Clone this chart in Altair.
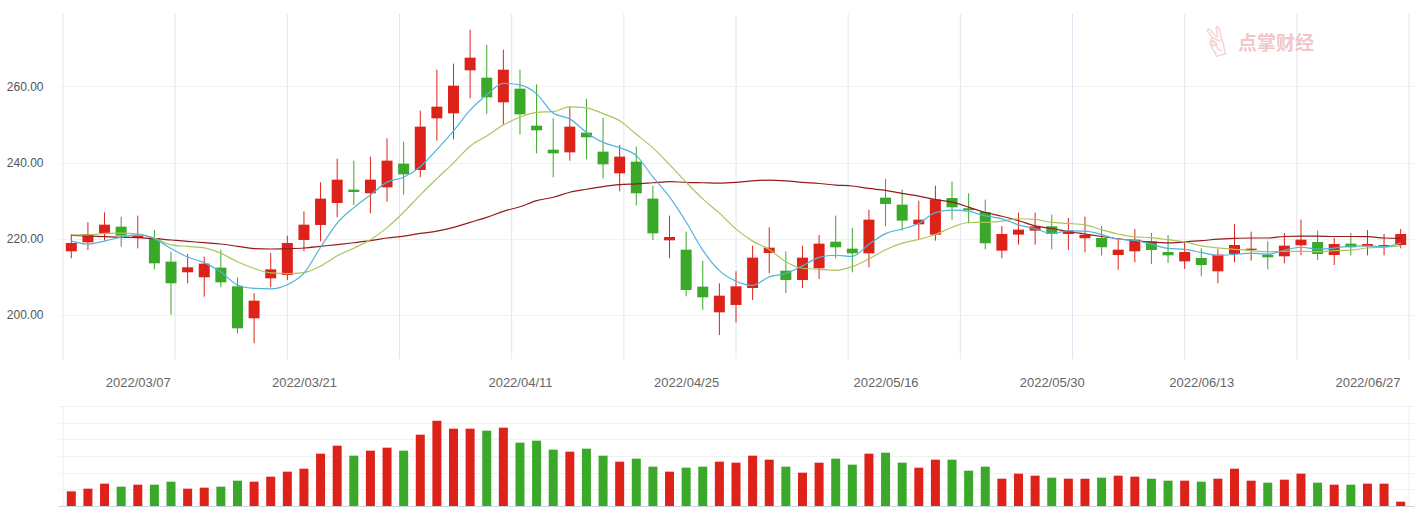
import altair as alt
import pandas as pd

DATES = [
    "2022/03/01", "2022/03/02", "2022/03/03", "2022/03/04", "2022/03/07", "2022/03/08", "2022/03/09",
    "2022/03/10", "2022/03/11", "2022/03/14", "2022/03/15", "2022/03/16", "2022/03/17", "2022/03/18",
    "2022/03/21", "2022/03/22", "2022/03/23", "2022/03/24", "2022/03/25", "2022/03/28", "2022/03/29",
    "2022/03/30", "2022/03/31", "2022/04/01", "2022/04/06", "2022/04/07", "2022/04/08", "2022/04/11",
    "2022/04/12", "2022/04/13", "2022/04/14", "2022/04/15", "2022/04/18", "2022/04/19", "2022/04/20",
    "2022/04/21", "2022/04/22", "2022/04/25", "2022/04/26", "2022/04/27", "2022/04/28", "2022/04/29",
    "2022/05/05", "2022/05/06", "2022/05/09", "2022/05/10", "2022/05/11", "2022/05/12", "2022/05/13",
    "2022/05/16", "2022/05/17", "2022/05/18", "2022/05/19", "2022/05/20", "2022/05/23", "2022/05/24",
    "2022/05/25", "2022/05/26", "2022/05/27", "2022/05/30", "2022/05/31", "2022/06/01", "2022/06/02",
    "2022/06/06", "2022/06/07", "2022/06/08", "2022/06/09", "2022/06/10", "2022/06/13", "2022/06/14",
    "2022/06/15", "2022/06/16", "2022/06/17", "2022/06/20", "2022/06/21", "2022/06/22", "2022/06/23",
    "2022/06/24", "2022/06/27", "2022/06/28", "2022/06/29",
]

OPEN = [
    216.71, 219.07, 221.52, 223.18, 220.20, 220.20, 214.00, 211.20, 209.89, 212.42,
    207.52, 199.13, 209.62, 210.50, 219.68, 223.62, 229.39, 232.89, 231.93, 233.50,
    239.71, 238.05, 251.60, 252.92, 264.20, 262.27, 255.80, 259.39, 249.68, 243.38,
    242.68, 247.84, 242.86, 237.17, 240.23, 230.53, 219.59, 217.14, 207.44, 200.70,
    202.63, 207.08, 216.27, 211.63, 209.18, 212.25, 219.24, 217.41, 216.18, 230.79,
    228.95, 223.79, 221.08, 230.70, 228.00, 227.03, 216.88, 221.08, 222.13, 223.27,
    221.25, 220.12, 220.20, 215.74, 216.71, 219.33, 216.53, 214.08, 214.96, 211.46,
    216.01, 217.06, 215.83, 215.40, 218.28, 219.15, 215.74, 218.72, 218.02, 218.11,
    218.37,
]
HIGH = [
    221.25, 224.32, 226.94, 225.80, 226.07, 222.30, 216.62, 216.01, 215.31, 217.14,
    209.89, 205.69, 216.27, 220.82, 227.20, 234.81, 241.02, 240.50, 241.55, 246.36,
    245.48, 253.62, 264.37, 265.95, 274.87, 270.93, 269.62, 264.37, 260.52, 251.60,
    254.66, 256.68, 251.69, 244.61, 244.17, 233.94, 226.07, 221.87, 214.26, 208.31,
    211.46, 218.19, 223.00, 216.71, 218.19, 220.99, 226.07, 222.83, 227.64, 235.69,
    232.89, 230.00, 233.94, 234.99, 231.93, 230.26, 223.35, 226.85, 226.85, 226.33,
    225.45, 225.80, 223.35, 219.68, 222.57, 221.52, 220.99, 219.33, 217.49, 217.32,
    223.88, 221.87, 219.33, 221.52, 225.02, 222.13, 220.20, 221.52, 222.30, 221.25,
    222.57,
]
LOW = [
    214.87, 217.06, 219.51, 217.93, 217.49, 211.98, 200.09, 208.31, 204.81, 207.26,
    195.19, 192.57, 207.26, 209.18, 216.71, 219.33, 225.63, 228.86, 226.68, 229.74,
    231.57, 236.12, 245.74, 246.09, 256.85, 252.74, 249.94, 247.41, 242.42, 236.12,
    240.50, 240.85, 235.86, 232.45, 228.78, 219.68, 214.87, 204.90, 201.32, 194.75,
    198.07, 203.94, 210.93, 205.77, 207.08, 209.45, 214.87, 211.20, 212.51, 223.27,
    222.13, 219.94, 219.51, 225.02, 224.05, 217.23, 214.87, 218.46, 218.46, 217.23,
    217.06, 216.44, 215.61, 211.89, 213.82, 213.38, 213.65, 212.07, 210.15, 208.31,
    213.82, 214.26, 211.98, 213.56, 215.66, 214.43, 213.12, 215.61, 215.66, 215.66,
    217.49,
]
CLOSE = [
    218.89, 221.25, 223.70, 220.82, 220.82, 213.56, 208.31, 212.51, 213.47, 208.57,
    196.50, 203.76, 211.98, 218.89, 223.70, 230.53, 235.51, 232.28, 235.51, 240.50,
    236.91, 249.42, 254.66, 260.17, 267.52, 257.11, 264.37, 252.65, 248.45, 242.42,
    249.42, 246.62, 239.53, 241.55, 231.93, 221.43, 220.47, 206.56, 204.64, 205.07,
    207.52, 215.05, 217.67, 209.18, 215.05, 218.72, 217.76, 216.18, 225.02, 229.13,
    224.76, 225.02, 230.35, 228.25, 227.50, 218.81, 221.25, 222.39, 223.27, 221.25,
    222.13, 221.08, 217.77, 217.14, 219.77, 217.06, 215.66, 216.53, 213.12, 215.83,
    218.37, 217.41, 215.13, 218.19, 219.77, 216.01, 218.63, 217.76, 218.63, 218.37,
    221.25,
]
VOLUME = [
    0.88, 1.04, 1.34, 1.16, 1.28, 1.28, 1.46, 1.04, 1.10, 1.16,
    1.52, 1.46, 1.76, 2.06, 2.24, 3.14, 3.62, 3.02, 3.32, 3.50,
    3.32, 4.28, 5.12, 4.64, 4.64, 4.52, 4.70, 3.80, 3.92, 3.38,
    3.26, 3.44, 3.02, 2.66, 2.84, 2.36, 2.06, 2.30, 2.36, 2.66,
    2.60, 3.02, 2.78, 2.36, 2.00, 2.60, 2.84, 2.48, 3.14, 3.20,
    2.60, 2.30, 2.78, 2.78, 2.12, 2.36, 1.64, 1.94, 1.82, 1.70,
    1.64, 1.64, 1.70, 1.82, 1.76, 1.64, 1.52, 1.52, 1.46, 1.64,
    2.24, 1.52, 1.40, 1.58, 1.94, 1.40, 1.28, 1.28, 1.34, 1.34,
    0.26,
]
MA5 = [
    219.40, 218.60, 219.40, 220.40, 221.10, 220.03, 217.44, 215.20, 213.73, 211.28,
    207.87, 206.96, 206.86, 207.94, 210.97, 217.77, 224.12, 228.18, 231.51, 234.87,
    236.14, 238.92, 243.40, 248.33, 253.74, 257.78, 260.77, 260.36, 258.02, 253.00,
    251.46, 247.91, 245.29, 243.91, 241.81, 236.21, 230.98, 224.39, 217.01, 211.63,
    208.85, 207.77, 209.99, 210.90, 212.89, 215.13, 215.68, 215.38, 218.55, 221.36,
    222.57, 224.02, 226.86, 227.50, 227.18, 225.99, 225.23, 223.64, 222.64, 221.39,
    222.06, 222.02, 221.10, 219.87, 219.58, 218.56, 217.48, 217.23, 216.43, 215.64,
    215.90, 216.25, 215.97, 216.99, 217.77, 217.30, 217.55, 218.07, 218.16, 217.88,
    218.93,
]
MA10 = [
    221.00, 221.00, 221.40, 221.50, 221.25, 220.20, 218.40, 218.00, 217.60, 216.19,
    213.95, 212.20, 211.03, 210.84, 211.13, 212.82, 215.54, 217.52, 219.72, 222.92,
    226.96, 231.52, 235.79, 239.92, 244.30, 246.96, 249.85, 251.88, 253.18, 253.37,
    254.62, 254.34, 252.83, 250.96, 247.41, 243.84, 239.45, 234.84, 230.46, 226.72,
    222.53, 219.38, 217.19, 213.95, 212.26, 211.99, 211.72, 212.68, 214.72, 217.13,
    218.85, 219.85, 221.12, 223.02, 224.27, 224.28, 224.63, 225.25, 225.07, 224.28,
    224.02, 223.63, 222.37, 221.26, 220.49, 220.31, 219.75, 219.17, 218.15, 217.61,
    217.23, 216.87, 216.60, 216.71, 216.71, 216.60, 216.90, 217.02, 217.57, 217.83,
    218.12,
]
MA_LONG = [
    220.91, 220.73, 220.56, 220.38, 220.29, 220.03, 219.68, 219.33, 218.98, 218.63,
    218.02, 217.41, 217.32, 217.41, 217.58, 218.02, 218.46, 218.95, 219.50, 220.20,
    220.70, 221.40, 222.00, 223.00, 224.30, 225.60, 227.20, 228.40, 230.00, 230.90,
    232.20, 233.00, 233.70, 234.20, 234.40, 234.70, 235.00, 234.80, 234.70, 234.60,
    234.80, 235.20, 235.40, 235.20, 234.80, 234.50, 234.10, 233.85, 233.20, 232.70,
    231.90, 231.20, 230.30, 229.60, 228.30, 226.90, 225.90, 224.75, 223.40, 222.70,
    221.90, 221.25, 220.60, 220.00, 219.50, 219.10, 218.90, 219.20, 219.50, 219.90,
    220.10, 220.20, 220.20, 220.60, 220.70, 220.70, 220.60, 220.60, 220.55, 220.20,
    220.10,
]
LABEL_DATES = ["2022/03/07", "2022/03/21", "2022/04/11", "2022/04/25",
               "2022/05/16", "2022/05/30", "2022/06/13", "2022/06/27"]
Y_TICKS = [200, 220, 240, 260]
VOL_TICKS = [1, 2, 3, 4, 5, 6]
WATERMARK = "点掌财经"

RED = "#dd2219"
GREEN = "#3aa828"
FONT = "Liberation Sans"

n = len(DATES)
df = pd.DataFrame({
    "date": DATES, "open": OPEN, "high": HIGH, "low": LOW, "close": CLOSE,
    "volume": VOLUME, "ma5": MA5, "ma10": MA10, "malong": MA_LONG,
})
df["pos"] = [i + 0.5 for i in range(n)]
df["dir"] = ["up" if c >= o else "down" for o, c in zip(OPEN, CLOSE)]

# 12 evenly spaced vertical split lines across the category range
grid_df = pd.DataFrame({"g": [k * n / 12 for k in range(13)]})

xscale = alt.Scale(domain=[0, n], nice=False, zero=False)
yscale = alt.Scale(domain=[188.45, 278.98], nice=False, zero=False)
color = alt.Color("dir:N", scale=alt.Scale(domain=["up", "down"], range=[RED, GREEN]), legend=None)

label_expr = "[" + ",".join("'%s'" % d for d in DATES) + "][floor(datum.value)]"
x_axis = alt.Axis(values=[DATES.index(d) + 0.5 for d in LABEL_DATES], labelExpr=label_expr,
                  grid=False, ticks=False, domain=False, labelPadding=17, labelFontSize=13,
                  labelColor="#666666", labelFont=FONT, labelFlush=False, labelOverlap=False,
                  minExtent=35, maxExtent=35, title=None)
y_axis = alt.Axis(values=Y_TICKS, format=".2f", grid=True, gridColor="#f1f1f1", ticks=False,
                  domain=False, labelPadding=15, labelFontSize=12, labelColor="#555555",
                  labelFont=FONT, minExtent=58, maxExtent=58, title=None)

X = alt.X("pos:Q", scale=xscale, axis=x_axis)

grid = alt.Chart(grid_df).mark_rule(color="#e0e6f1", strokeWidth=1).encode(
    x=alt.X("g:Q", scale=xscale, axis=x_axis)
)

wicks = alt.Chart(df).mark_rule(strokeWidth=1).encode(
    x=X,
    y=alt.Y("low:Q", scale=yscale, axis=y_axis),
    y2="high:Q",
    color=color,
)
bodies = alt.Chart(df).mark_bar(size=11).encode(
    x=X,
    y=alt.Y("open:Q", scale=yscale, axis=y_axis),
    y2="close:Q",
    color=color,
)

def ma_line(field, col):
    return alt.Chart(df).mark_line(color=col, strokeWidth=1.2, interpolate="monotone").encode(
        x=X, y=alt.Y(field + ":Q", scale=yscale, axis=y_axis)
    )

ma_long = ma_line("malong", "#951b1e")
ma10 = ma_line("ma10", "#a9c65a")
ma5 = ma_line("ma5", "#4fb4d8")

wm_df = pd.DataFrame({"t": [WATERMARK], "icon": ["✌"]})
watermark = alt.Chart(wm_df).mark_text(
    font="Noto Sans CJK SC", fontSize=19, fontWeight="bold", color="#f3c5c9", align="left",
    baseline="middle"
).encode(text="t:N", x=alt.value(1180), y=alt.value(30))
wm_icon = alt.Chart(wm_df).mark_text(
    font="DejaVu Sans", fontSize=40, color="#f4ccd0", align="center", baseline="middle", angle=345
).encode(text="icon:N", x=alt.value1(1160) if False else alt.value(1160), y=alt.value(30))

main = alt.layer(grid, wicks, bodies, ma_long, ma10, ma5, wm_icon, watermark).properties(
    width=1356, height=345
)

side_df = pd.DataFrame({"g": [0, n]})
vol_axis_x = alt.Axis(labels=False, ticks=False, grid=False, domain=True, domainColor="#cdd4e1",
                      title=None, minExtent=0, maxExtent=0)
vol_axis_y = alt.Axis(values=VOL_TICKS, labels=False, ticks=False, domain=False, grid=True,
                      gridColor="#f1f1f1", minExtent=58, maxExtent=58, title=None)
vol_sides = alt.Chart(side_df).mark_rule(color="#eceef2", strokeWidth=1).encode(
    x=alt.X("g:Q", scale=xscale, axis=vol_axis_x)
)
vol_bars = alt.Chart(df).mark_bar(size=9).encode(
    x=alt.X("pos:Q", scale=xscale, axis=vol_axis_x),
    y=alt.Y("volume:Q", scale=alt.Scale(domain=[0, 6], nice=False), axis=vol_axis_y),
    color=color,
)
vol = alt.layer(vol_sides, vol_bars).properties(width=1356, height=100)

chart = alt.vconcat(main, vol, spacing=11).properties(
    padding={"left": 0, "top": 13, "right": 2, "bottom": 0}
).configure(background="white").configure_view(strokeWidth=0, stroke="transparent")

chart.save("out.html", embed_options={"renderer": "svg", "actions": False})
